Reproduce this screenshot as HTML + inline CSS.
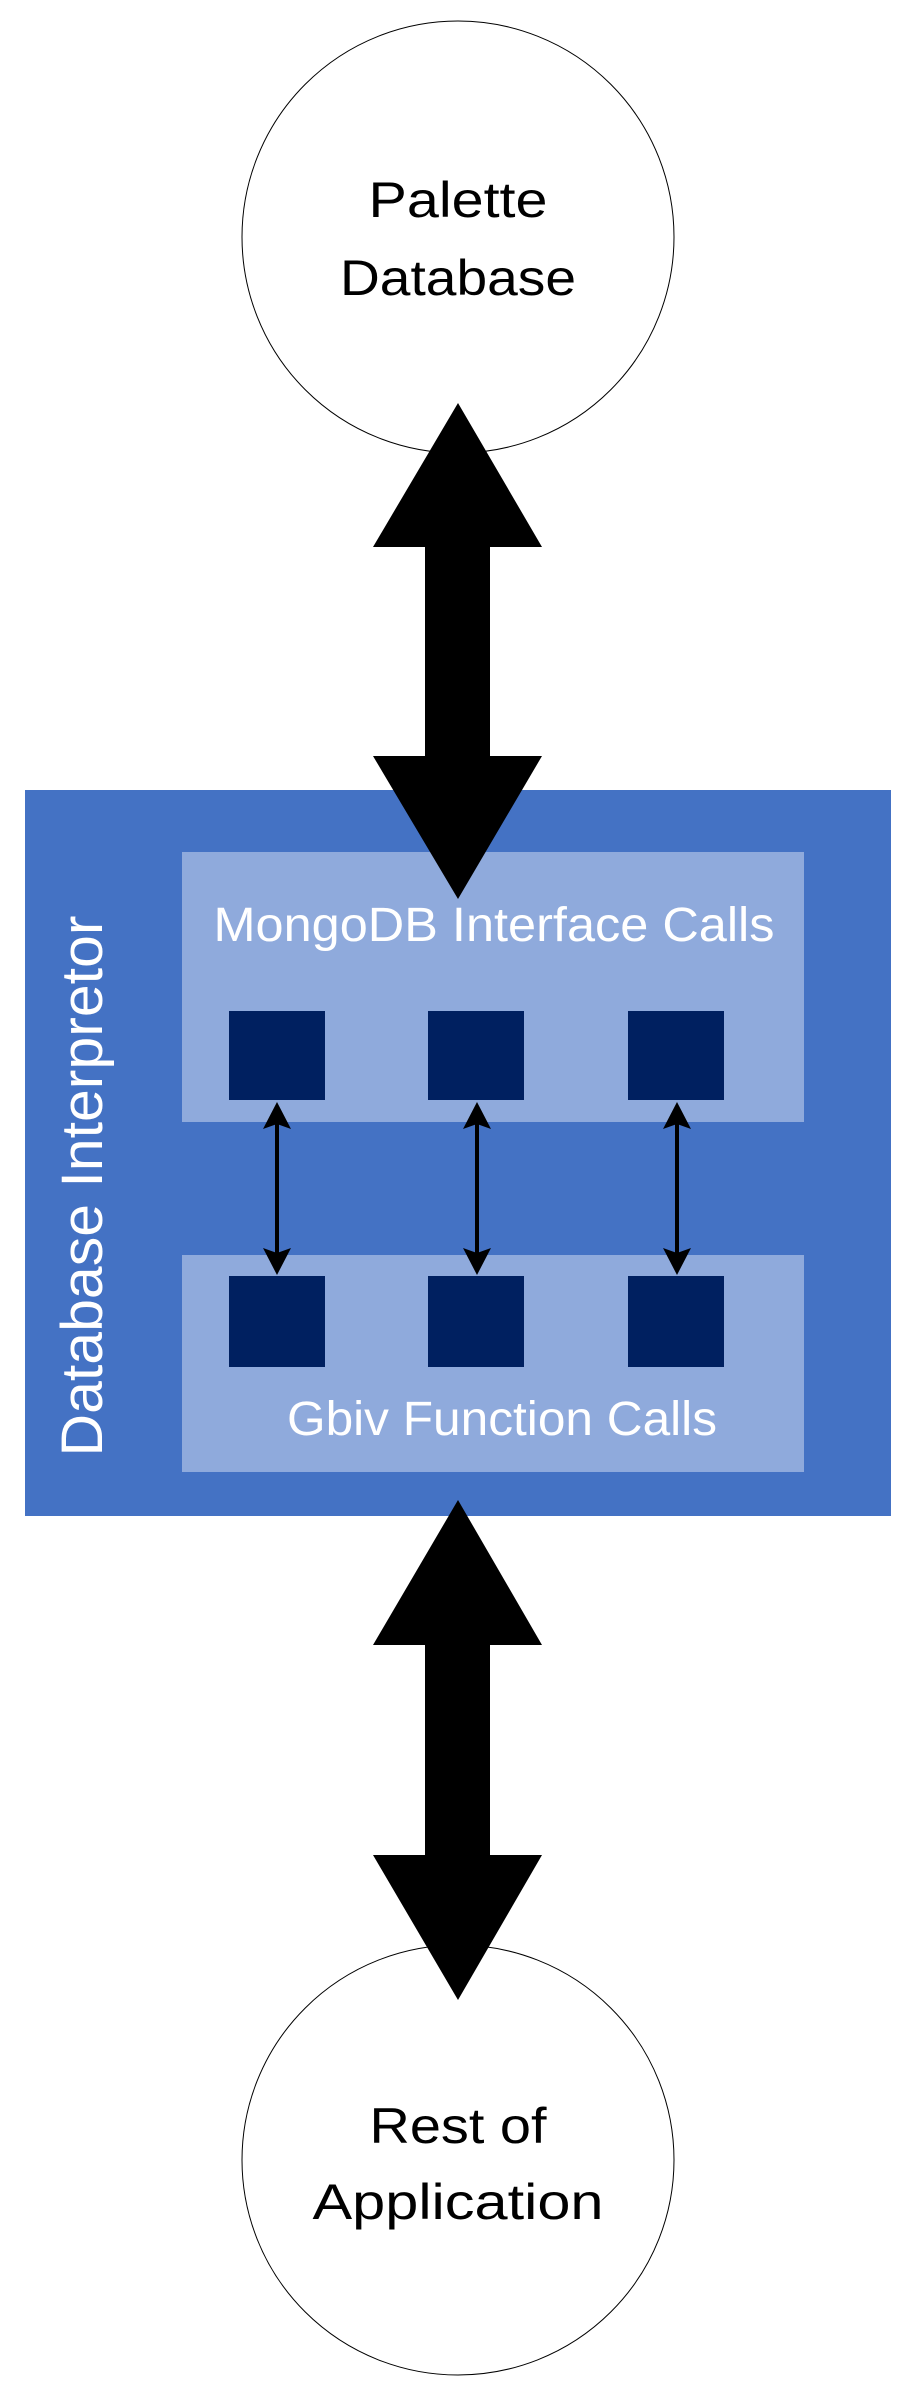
<!DOCTYPE html>
<html><head><meta charset="utf-8"><style>html,body{margin:0;padding:0;background:#fff}svg{display:block}</style></head>
<body>
<svg width="911" height="2393" viewBox="0 0 911 2393" xmlns="http://www.w3.org/2000/svg" font-family="'Liberation Sans', sans-serif">
<ellipse cx="458" cy="237" rx="216" ry="216" fill="#fff" stroke="#000" stroke-width="1"/>
<text x="458" y="217" font-size="50" text-anchor="middle" textLength="179" lengthAdjust="spacingAndGlyphs">Palette</text>
<text x="458" y="295" font-size="50" text-anchor="middle" textLength="236" lengthAdjust="spacingAndGlyphs">Database</text>

<ellipse cx="458" cy="2160" rx="216" ry="215" fill="#fff" stroke="#000" stroke-width="1"/>
<text x="458" y="2143" font-size="50" text-anchor="middle" textLength="177" lengthAdjust="spacingAndGlyphs">Rest of</text>
<text x="458" y="2219" font-size="50" text-anchor="middle" textLength="291" lengthAdjust="spacingAndGlyphs">Application</text>

<rect x="25" y="790" width="866" height="726" fill="#4472C4"/>
<rect x="182" y="852" width="622" height="270" fill="#8FAADC"/>
<rect x="182" y="1255" width="622" height="217" fill="#8FAADC"/>
<text x="494" y="941" font-size="48" fill="#fff" text-anchor="middle" textLength="561" lengthAdjust="spacingAndGlyphs">MongoDB Interface Calls</text>
<text x="502" y="1435" font-size="48" fill="#fff" text-anchor="middle" textLength="430" lengthAdjust="spacingAndGlyphs">Gbiv Function Calls</text>
<text transform="translate(102,1186) rotate(-90)" font-size="58" fill="#fff" text-anchor="middle" textLength="541" lengthAdjust="spacingAndGlyphs">Database Interpretor</text>

<g fill="#002060">
<rect x="229" y="1011" width="96" height="89"/>
<rect x="428" y="1011" width="96" height="89"/>
<rect x="628" y="1011" width="96" height="89"/>
<rect x="229" y="1276" width="96" height="91"/>
<rect x="428" y="1276" width="96" height="91"/>
<rect x="628" y="1276" width="96" height="91"/>
</g>
<g stroke="#000" stroke-width="4">
<line x1="277" y1="1120" x2="277" y2="1258"/>
<line x1="477" y1="1120" x2="477" y2="1258"/>
<line x1="677" y1="1120" x2="677" y2="1258"/>
</g>
<g fill="#000">
<path d="M277 1102 L291 1129 L277 1124 L263 1129 Z"/>
<path d="M277 1275 L291 1248 L277 1253 L263 1248 Z"/>
<path d="M477 1102 L491 1129 L477 1124 L463 1129 Z"/>
<path d="M477 1275 L491 1248 L477 1253 L463 1248 Z"/>
<path d="M677 1102 L691 1129 L677 1124 L663 1129 Z"/>
<path d="M677 1275 L691 1248 L677 1253 L663 1248 Z"/>
</g>

<path d="M458 403 L542 547 L490 547 L490 756 L542 756 L458 899 L373 756 L425 756 L425 547 L373 547 Z" fill="#000"/>
<path d="M458 1500 L542 1645 L490 1645 L490 1855 L542 1855 L458 2000 L373 1855 L425 1855 L425 1645 L373 1645 Z" fill="#000"/>
</svg>
</body></html>
